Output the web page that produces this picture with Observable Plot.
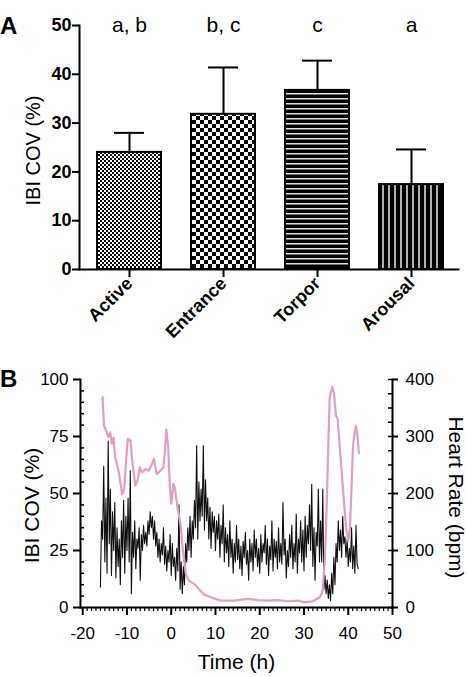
<!DOCTYPE html>
<html><head><meta charset="utf-8">
<script src="https://cdn.jsdelivr.net/npm/d3@7"></script>
<script src="https://cdn.jsdelivr.net/npm/@observablehq/plot@0.6"></script>
<style>
body{margin:0;background:#fff;font-family:"Liberation Sans",Arial,sans-serif;}
#root{position:relative;width:467px;height:677px;overflow:hidden;background:#fff;}
.panel{position:absolute;left:0;}
.tag{position:absolute;left:0;font-weight:bold;font-size:24px;line-height:24px;color:#000;}
</style></head>
<body>
<svg width="0" height="0" style="position:absolute"><defs>
<pattern id="pActive" width="4" height="4" patternUnits="userSpaceOnUse">
 <rect width="4" height="4" fill="#fff"/><rect width="2" height="2" fill="#000"/><rect x="2" y="2" width="2" height="2" fill="#000"/>
</pattern>
<pattern id="pEntrance" width="8" height="8" patternUnits="userSpaceOnUse">
 <rect width="8" height="8" fill="#fff"/><rect width="4" height="4" fill="#000"/><rect x="4" y="4" width="4" height="4" fill="#000"/>
</pattern>
<pattern id="pTorpor" width="6" height="5" patternUnits="userSpaceOnUse">
 <rect width="6" height="5" fill="#000"/><rect y="3" width="6" height="1.5" fill="#e0e0e0"/>
</pattern>
<pattern id="pArousal" width="6" height="6" patternUnits="userSpaceOnUse">
 <rect width="6" height="6" fill="#000"/><rect x="4" width="2" height="6" fill="#b0b0b0"/>
</pattern>
</defs></svg>
<div id="root">
 <div id="a" class="panel" style="top:0"></div>
 <div id="b" class="panel" style="top:340px"></div>
 <div id="b2" class="panel" style="top:340px"></div>
 <div class="tag" style="top:14px">A</div>
 <div class="tag" style="top:367px">B</div>
</div>
<script>
// ---------- Panel A data ----------
const categories = ["Active", "Entrance", "Torpor", "Arousal"];
const means = [24.0, 31.8, 36.7, 17.4];
const sems = [4.0, 9.6, 6.1, 7.2];
const letters = ["a, b", "b, c", "c", "a"];
const patternIds = ["pActive", "pEntrance", "pTorpor", "pArousal"];
const yTicksA = [0, 10, 20, 30, 40, 50];

// ---------- Panel B data ----------
const xTicksB = [-20, -10, 0, 10, 20, 30, 40, 50];
const covTicks = [0, 25, 50, 75, 100];
const hrTicks = [0, 100, 200, 300, 400];

const covTime = [
-16,-15.75,-15.5,-15.25,
-15,-14.75,-14.5,-14.25,
-14,-13.75,-13.5,-13.25,
-13,-12.75,-12.5,-12.25,
-12,-11.75,-11.5,-11.25,
-11,-10.75,-10.5,-10.25,
-10,-9.75,-9.5,-9.25,
-9,-8.75,-8.5,-8.25,
-8,-7.75,-7.5,-7.25,
-7,-6.75,-6.5,-6.25,
-6,-5.75,-5.5,-5.25,
-5,-4.75,-4.5,-4.25,
-4,-3.75,-3.5,-3.25,
-3,-2.75,-2.5,-2.25,
-2,-1.75,-1.5,-1.25,
-1,-0.75,-0.5,-0.25,
0,0.25,0.5,0.75,
1,1.25,1.5,1.75,
2,2.25,2.5,2.75,
3,3.25,3.5,3.75,
4,4.25,4.5,4.75,
5,5.25,5.5,5.75,
6,6.25,6.5,6.75,
7,7.25,7.5,7.75,
8,8.25,8.5,8.75,
9,9.25,9.5,9.75,
10,10.25,10.5,10.75,
11,11.25,11.5,11.75,
12,12.25,12.5,12.75,
13,13.25,13.5,13.75,
14,14.25,14.5,14.75,
15,15.25,15.5,15.75,
16,16.25,16.5,16.75,
17,17.25,17.5,17.75,
18,18.25,18.5,18.75,
19,19.25,19.5,19.75,
20,20.25,20.5,20.75,
21,21.25,21.5,21.75,
22,22.25,22.5,22.75,
23,23.25,23.5,23.75,
24,24.25,24.5,24.75,
25,25.25,25.5,25.75,
26,26.25,26.5,26.75,
27,27.25,27.5,27.75,
28,28.25,28.5,28.75,
29,29.25,29.5,29.75,
30,30.25,30.5,30.75,
31,31.25,31.5,31.75,
32,32.25,32.5,32.75,
33,33.25,33.5,33.75,
34,34.25,34.5,34.75,
35,35.25,35.5,35.75,
36,36.25,36.5,36.75,
37,37.25,37.5,37.75,
38,38.25,38.5,38.75,
39,39.25,39.5,39.75,
40,40.25,40.5,40.75,
41,41.25,41.5,41.75,
42,42.25];

const covValue = [
9,38,30,62,
20,48,15,73,
28,52,14,42,
25,46,13,35,
18,30,10,38,
22,47,15,40,
25,48,20,60,
6,33,22,38,
17,30,26,35,
12,32,25,36,
28,33,27,38,
32,42,35,40,
30,38,27,33,
22,30,20,28,
23,35,19,27,
16,25,20,32,
14,28,18,22,
12,26,16,45,
8,20,6,18,
10,28,20,35,
25,40,22,38,
30,47,35,71,
30,55,38,52,
40,71,34,56,
38,48,30,44,
26,42,33,40,
25,38,30,41,
22,36,28,45,
20,35,24,32,
18,38,22,30,
15,28,20,36,
21,30,17,27,
14,29,22,33,
19,25,12,30,
20,28,16,34,
22,30,18,26,
15,32,20,28,
24,36,19,30,
14,27,21,38,
16,30,22,29,
17,35,20,28,
19,46,23,30,
13,25,18,32,
22,36,17,28,
20,41,15,30,
24,38,20,34,
16,40,22,36,
28,45,25,54,
18,35,12,33,
27,52,20,38,
20,52,8,14,
6,12,4,10,
3,15,6,22,
10,28,20,38,
25,34,22,40,
28,31,22,30,
18,26,20,35,
17,27,15,36,
19,17];

const hrTime = [-15.5,-15.2,-14.7,-14.2,-13.8,-13.4,-13.0,-12.7,-11.9,-11.1,-10.6,-10.2,-9.8,-9.2,-8.9,-8.1,-7.6,-7.1,-6.6,-5.8,-5.1,-4.3,-3.9,-3.3,-2.4,-1.8,-1.5,-1.1,-0.7,-0.3,0.0,0.5,0.8,1.4,2.1,2.7,3.3,4.0,5.2,6.3,7.4,8.9,11.2,14.2,17.3,19.5,21.8,24.1,26.4,28.6,30.2,32.0,33.6,34.2,34.7,35.1,35.5,35.8,36.4,36.8,37.2,37.6,38.1,38.9,39.5,40.0,40.4,40.8,41.1,41.7,42.0,42.4];
const hrValue = [369,319,310,299,307,287,298,264,240,199,208,258,296,293,264,214,223,246,237,243,240,252,261,234,240,246,269,312,281,211,182,217,211,176,146,94,59,47,41,32,23,18,12,12,15,13,12,13,11,12,9,11,18,29,82,170,287,369,387,375,337,331,281,199,141,117,141,223,287,319,307,271];

const FONT = '"Liberation Sans", Arial, sans-serif';
const plain = d => String(d);

// ---------- Panel A ----------
const barData = categories.map((c, i) => ({
  cat: c, mean: means[i], upper: means[i] + sems[i], letter: letters[i],
  fill: `url(#${patternIds[i]})`
}));
const yMaxA = yTicksA[yTicksA.length - 1];

const plotA = Plot.plot({
  width: 467, height: 340,
  marginLeft: 79, marginRight: 9, marginTop: 25, marginBottom: 71,
  style: {fontFamily: FONT, background: "transparent", color: "#000", overflow: "visible"},
  x: {domain: categories, range: [82, 458], paddingInner: 0.32, paddingOuter: 0.16},
  y: {domain: [0, yMaxA]},
  color: {type: "identity"},
  marks: [
    Plot.ruleX(barData, {x: "cat", y1: "mean", y2: "upper", stroke: "#000", strokeWidth: 2}),
    Plot.tickY(barData, {x: "cat", y: "upper", stroke: "#000", strokeWidth: 2, inset: 17}),
    Plot.barY(barData, {x: "cat", y: "mean", fill: "fill", stroke: "#000", strokeWidth: 2}),
    Plot.text(barData, {x: "cat", y: () => yMaxA, text: "letter", fontSize: 21, lineAnchor: "middle", fill: "#000"}),
    Plot.frame({anchor: "left", strokeWidth: 2, stroke: "#000"}),
    Plot.frame({anchor: "bottom", strokeWidth: 2, stroke: "#000"}),
    Plot.axisY({ticks: yTicksA, tickSize: 7, tickPadding: 1, fontSize: 18, fontWeight: "bold", strokeWidth: 2, label: null}),
    Plot.axisX({tickSize: 8, tickRotate: -45, tickPadding: 3, fontSize: 18, fontWeight: "bold", strokeWidth: 2, label: null}),
    Plot.text(["IBI COV (%)"], {frameAnchor: "left", dx: -46, dy: 3, rotate: -90, textAnchor: "middle", lineAnchor: "middle", fontSize: 20, fill: "#000"})
  ]
});
document.getElementById("a").append(plotA);

// ---------- Panel B ----------
const covData = covTime.map((t, i) => ({t, v: covValue[i]}));
const hrData = hrTime.map((t, i) => ({t, v: hrValue[i]}));
const covMinor = d3.range(0, 101, 5).filter(v => !covTicks.includes(v));
const hrMinor = d3.range(0, 401, 25);
const xMinor = d3.range(-20, 51, 1).filter(v => !xTicksB.includes(v));

const common = {
  width: 467, height: 337,
  marginLeft: 80, marginRight: 75, marginTop: 39, marginBottom: 70,
  x: {domain: [-20.5, 50]},
  style: {fontFamily: FONT, background: "transparent", color: "#000", overflow: "visible"}
};

const plotB1 = Plot.plot({
  ...common,
  y: {domain: [0, 100]},
  marks: [
    Plot.line(covData, {x: "t", y: "v", stroke: "#111", strokeWidth: 1.1}),
    Plot.frame({anchor: "left", strokeWidth: 2, stroke: "#000"}),
    Plot.frame({anchor: "bottom", strokeWidth: 2, stroke: "#000"}),
    Plot.axisY({ticks: covTicks, tickSize: 7, tickPadding: 5, fontSize: 17, tickFormat: plain, strokeWidth: 2, label: null}),
    Plot.axisY({ticks: covMinor, tickSize: -4, tickFormat: () => "", strokeWidth: 1.5, label: null}),
    Plot.axisX({ticks: xTicksB, tickSize: 8, tickPadding: 11, fontSize: 17, tickFormat: plain, strokeWidth: 2, label: null}),
    Plot.axisX({ticks: xMinor, tickSize: 4, tickFormat: () => "", strokeWidth: 1.2, label: null}),
    Plot.text(["Time (h)"], {frameAnchor: "bottom", dy: 55, textAnchor: "middle", lineAnchor: "middle", fontSize: 21, fill: "#000"}),
    Plot.text(["IBI COV (%)"], {frameAnchor: "left", dx: -48, dy: 12, rotate: -90, textAnchor: "middle", lineAnchor: "middle", fontSize: 21, fill: "#000"})
  ]
});
document.getElementById("b").append(plotB1);

const plotB2 = Plot.plot({
  ...common,
  x: {domain: [-20.5, 50], axis: null},
  y: {domain: [0, 400]},
  marks: [
    Plot.line(hrData, {x: "t", y: "v", stroke: "#dda0c4", strokeWidth: 2.2}),
    Plot.frame({anchor: "right", strokeWidth: 2, stroke: "#000"}),
    Plot.axisY({anchor: "right", ticks: hrTicks, tickSize: 5, tickPadding: 8, fontSize: 17, tickFormat: plain, strokeWidth: 2, label: null}),
    Plot.axisY({anchor: "right", ticks: hrMinor, tickSize: -5, tickFormat: () => "", strokeWidth: 1.5, label: null}),
    Plot.text(["Heart Rate (bpm)"], {frameAnchor: "right", dx: 63, dy: 4, rotate: 90, textAnchor: "middle", lineAnchor: "middle", fontSize: 21, fill: "#000"})
  ]
});
document.getElementById("b2").append(plotB2);
</script>
</body></html>
